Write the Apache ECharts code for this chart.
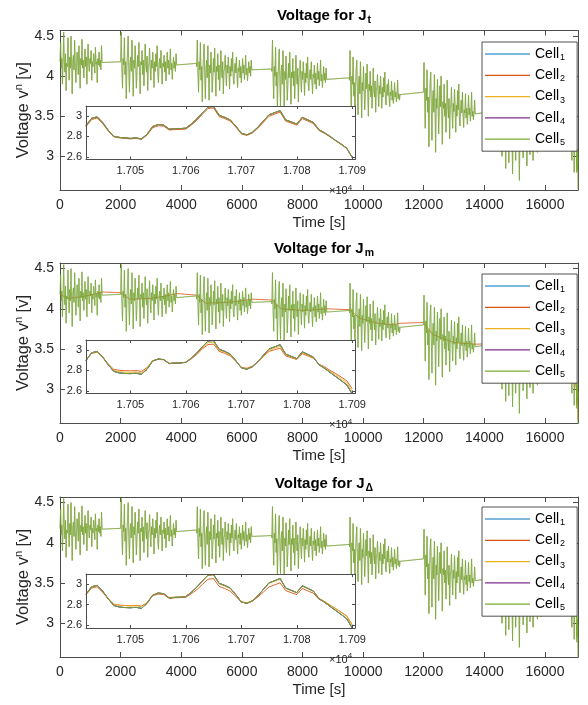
<!DOCTYPE html>
<html><head><meta charset="utf-8">
<script src="https://cdn.jsdelivr.net/npm/echarts@6/dist/echarts.min.js"></script>
<style>html,body{margin:0;padding:0;background:#fff}#c{width:588px;height:705px}</style>
</head><body><div id="c"></div>
<script>
// ---------- DATA ----------
const cellNames = ['Cell1','Cell2','Cell3','Cell4','Cell5'];
const titles = ['t','m','Δ'];
const mainXTicks = [0,2000,4000,6000,8000,10000,12000,14000,16000];
const mainYTicks = [3,3.5,4,4.5];
const insetXTicks = [17050,17060,17070,17080,17090];
const insetYTicks = [2.6,2.8,3];

// drive-cycle blocks [start, end] in s
const blockTimes = [[0,1390],[2000,3850],[4510,6330],[6990,8800],[9550,11220],[11990,13700],[14520,16060],[16830,17041]];
const b1 = [4.18,4.42,4.10,4.22,3.90,4.15,4.55,4.20,4.05,4.28,
3.82,4.16,4.12,4.48,4.18,3.95,4.24,4.10,4.50,4.14,
3.78,4.20,4.26,4.08,4.45,4.16,3.92,4.12,4.30,4.19,
4.02,4.38,4.15,3.85,4.22,4.14,4.46,4.10,4.20,3.98,
4.17,4.34,4.12,4.24,3.90,4.18,4.40,4.15,4.06,4.22,
4.16,4.32,3.95,4.18,4.12,4.28,4.20,4.04,4.36,4.15,
4.18,3.92,4.22,4.14,4.30,4.12,4.20,4.08,4.38,4.17];
const b2 = [4.16,4.55,4.10,3.85,4.22,4.14,4.48,4.02,4.18,3.72,
4.12,4.30,4.50,4.08,3.80,4.16,4.24,4.06,4.45,4.12,
3.75,4.20,4.10,4.38,4.15,3.85,4.05,4.26,4.12,4.42,
4.08,3.78,4.18,4.14,4.32,4.02,4.20,3.88,4.10,4.40,
4.14,4.05,4.25,3.82,4.12,4.16,4.35,4.08,3.95,4.20,
4.10,4.30,4.14,3.86,4.18,4.06,4.28,4.12,4.38,4.04,
3.92,4.15,4.22,4.10,4.32,4.08,3.90,4.16,4.12,4.26,
4.05,4.18,3.94,4.12,4.30,4.10,4.20,4.02,4.14,4.34,
4.08,4.16,3.96,4.12,4.24,4.10,4.18,4.06,4.28,4.14];
const b3 = [4.12,4.45,4.05,3.80,4.18,4.08,4.42,3.95,4.12,3.68,
4.06,4.25,4.40,4.02,3.72,4.10,4.20,3.98,4.38,4.06,
3.70,4.14,4.04,4.30,4.08,3.80,3.98,4.22,4.05,4.35,
4.02,3.75,4.12,4.06,4.28,3.96,4.14,3.82,4.04,4.32,
4.08,3.98,4.18,3.78,4.06,4.10,4.26,4.02,3.88,4.14,
4.04,4.24,4.08,3.84,4.12,4.00,4.22,4.06,4.30,3.98,
3.90,4.08,4.16,4.04,4.24,4.02,3.86,4.10,4.06,4.20,
3.98,4.12,3.92,4.06,4.22,4.04,4.14,3.96,4.08,4.26,
4.02,4.10,3.94,4.06,4.18,4.04,4.12,4.00,4.20,4.08];
const b4 = [4.06,4.45,3.98,3.72,4.12,4.00,4.36,3.88,4.05,3.58,
3.98,4.20,4.34,3.95,3.62,4.04,4.14,3.90,4.32,3.98,
3.55,4.06,3.96,4.25,4.00,3.70,3.90,4.16,3.98,4.30,
3.95,3.65,4.05,3.98,4.22,3.88,4.06,3.72,3.96,4.26,
4.00,3.90,4.10,3.68,3.98,4.02,4.20,3.94,3.80,4.06,
3.96,4.18,4.00,3.76,4.04,3.92,4.16,3.98,4.24,3.90,
3.82,4.00,4.08,3.96,4.18,3.94,3.78,4.02,3.98,4.14,
3.90,4.04,3.84,3.98,4.16,3.96,4.06,3.88,4.00,4.20,
3.94,4.02,3.86,3.98,4.12,3.95,4.04,3.92,4.10,3.96];
const b5 = [3.95,4.32,3.88,3.60,4.00,3.90,4.24,3.75,3.92,3.45,
3.86,4.08,4.20,3.82,3.52,3.90,4.00,3.78,4.18,3.85,
3.48,3.92,3.82,4.12,3.86,3.58,3.78,4.04,3.84,4.15,
3.80,3.50,3.90,3.82,4.06,3.74,3.88,3.60,3.80,4.10,
3.84,3.74,3.94,3.55,3.82,3.86,4.02,3.78,3.62,3.88,
3.78,4.00,3.82,3.60,3.86,3.74,3.98,3.80,4.05,3.72,
3.64,3.82,3.90,3.76,3.96,3.74,3.62,3.80,3.76,3.94,
3.70,3.82,3.66,3.76,3.92,3.74,3.80,3.68,3.78,3.95,
3.72,3.78,3.70,3.77];
const b6 = [3.82,4.17,3.72,3.35,3.85,3.70,4.08,3.55,3.74,3.12,
3.66,3.92,4.05,3.60,3.20,3.70,3.82,3.55,4.02,3.64,
3.05,3.72,3.60,3.96,3.66,3.28,3.56,3.88,3.62,4.00,
3.58,3.15,3.68,3.60,3.90,3.50,3.66,3.30,3.58,3.95,
3.62,3.48,3.72,3.22,3.60,3.64,3.86,3.55,3.35,3.66,
3.56,3.84,3.60,3.30,3.64,3.50,3.82,3.58,3.90,3.48,
3.38,3.60,3.70,3.54,3.80,3.52,3.36,3.58,3.54,3.78,
3.48,3.60,3.40,3.54,3.76,3.52,3.60,3.44,3.56,3.80,
3.50,3.56,3.46,3.54,3.70,3.53];
const b7 = [3.55,3.85,3.40,3.00,3.52,3.38,3.80,3.20,3.42,2.85,
3.36,3.62,3.76,3.30,2.92,3.40,3.52,3.25,3.74,3.34,
2.78,3.42,3.30,3.68,3.36,2.95,3.26,3.60,3.32,3.72,
3.28,2.70,3.38,3.30,3.64,3.20,3.36,2.98,3.28,3.66,
3.32,3.15,3.42,2.88,3.30,3.34,3.58,3.25,3.02,3.36,
3.26,3.55,3.30,2.95,3.34,3.20,3.52,3.28,3.60,3.18,
3.05,3.30,3.40,3.24,3.50,3.22,3.08,3.28,3.24,3.48,
3.20,3.30,3.12,3.26,3.45,3.38];
const b8 = [3.42,3.70,3.30,2.95,3.50,3.25,3.62,2.80,3.35,3.10,3.40,3.00];
const blockValues = [b1,b2,b3,b4,b5,b6,b7,b8];
// rest (relaxation) voltages between blocks: [start, end]
const restValues = [[4.17,4.18],[4.14,4.16],[4.07,4.09],[3.95,3.98],[3.77,3.80],[3.53,3.57],[3.40,3.46]];

// subplot J_m: Cell2 trace (visible centre / rest line)
const jmCell2Times  = [0,250,700,1100,1390,2000,2300,3000,3500,3850,4510,4800,5500,6000,6330,6990,7300,8000,8500,8800,9550,9900,10500,11000,11220,11990,12300,13000,13700,14520,14900,15500,16060,16830,16950,17041];
const jmCell2Values = [4.18,4.13,4.15,4.18,4.21,4.20,4.12,4.13,4.16,4.19,4.17,4.07,4.08,4.10,4.12,4.11,4.00,3.98,3.99,4.00,3.99,3.88,3.82,3.80,3.82,3.83,3.68,3.58,3.56,3.57,3.44,3.36,3.42,3.48,3.28,2.98];

// inset window: one sample per second from 17042 s
const insetStart = 17042;
const jtCell5 = [2.905,2.975,2.99,2.935,2.86,2.80,2.79,2.785,2.78,2.785,2.775,2.82,2.895,2.915,2.91,2.87,2.875,2.875,2.88,2.92,2.97,3.03,3.085,3.09,3.005,2.985,2.96,2.90,2.83,2.815,2.84,2.89,2.95,3.01,3.03,3.05,2.96,2.94,2.92,2.985,2.96,2.935,2.865,2.835,2.80,2.76,2.725,2.685,2.595];
const jtCell2 = [2.895,2.963,2.978,2.925,2.852,2.795,2.785,2.78,2.775,2.78,2.77,2.812,2.883,2.903,2.899,2.861,2.866,2.866,2.871,2.909,2.957,3.016,3.071,3.076,2.992,2.973,2.949,2.891,2.824,2.809,2.833,2.880,2.938,2.996,3.016,3.036,2.948,2.929,2.909,2.972,2.948,2.924,2.857,2.829,2.795,2.757,2.722,2.683,2.592];
const jmCell5 = [2.895,2.97,2.985,2.93,2.855,2.79,2.775,2.77,2.768,2.772,2.762,2.81,2.89,2.91,2.905,2.866,2.87,2.872,2.878,2.92,2.97,3.03,3.085,3.09,3.005,2.985,2.958,2.895,2.825,2.81,2.835,2.885,2.948,3.008,3.028,3.05,2.958,2.936,2.914,2.98,2.955,2.928,2.855,2.82,2.78,2.74,2.70,2.66,2.57];
const jmCell2 = [2.90,2.965,2.978,2.93,2.862,2.81,2.80,2.797,2.795,2.798,2.79,2.825,2.893,2.908,2.903,2.868,2.872,2.874,2.878,2.912,2.955,3.01,3.05,3.055,2.985,2.965,2.942,2.888,2.83,2.82,2.842,2.883,2.935,2.985,3.0,3.015,2.94,2.923,2.905,2.962,2.94,2.918,2.86,2.835,2.80,2.77,2.735,2.70,2.62];
const jmCell3 = [2.897,2.968,2.982,2.93,2.858,2.80,2.787,2.783,2.78,2.784,2.775,2.817,2.891,2.909,2.904,2.867,2.871,2.873,2.878,2.916,2.963,3.02,3.068,3.073,2.995,2.975,2.95,2.892,2.828,2.815,2.838,2.884,2.942,2.997,3.015,3.033,2.95,2.93,2.91,2.972,2.948,2.923,2.858,2.828,2.79,2.755,2.718,2.68,2.597];
const jdCell5 = [2.90,2.972,2.986,2.93,2.856,2.792,2.777,2.772,2.77,2.774,2.764,2.812,2.89,2.912,2.906,2.864,2.87,2.872,2.878,2.92,2.97,3.03,3.085,3.09,3.005,2.985,2.96,2.896,2.826,2.812,2.836,2.886,2.948,3.01,3.03,3.052,2.96,2.938,2.916,2.982,2.957,2.93,2.858,2.823,2.783,2.744,2.705,2.665,2.575];
const jdCell2 = [2.895,2.96,2.972,2.92,2.855,2.805,2.795,2.792,2.79,2.793,2.785,2.82,2.885,2.902,2.897,2.86,2.866,2.868,2.872,2.905,2.945,2.995,3.045,3.05,2.975,2.955,2.93,2.88,2.825,2.815,2.835,2.874,2.922,2.97,2.99,3.01,2.935,2.915,2.897,2.955,2.932,2.91,2.852,2.828,2.795,2.762,2.728,2.692,2.605];
const jdCell3 = [2.90,2.97,2.985,2.932,2.86,2.803,2.793,2.79,2.787,2.79,2.782,2.82,2.892,2.912,2.906,2.868,2.873,2.874,2.879,2.918,2.967,3.026,3.08,3.085,3.0,2.98,2.956,2.895,2.83,2.818,2.84,2.887,2.946,3.005,3.025,3.045,2.956,2.935,2.915,2.978,2.954,2.93,2.862,2.832,2.797,2.76,2.725,2.688,2.6];

// per subplot, per cell inset tails (overlapping cells share their values)
const insetSets = [
  [jtCell5, jtCell2, jtCell5, jtCell5, jtCell5],
  [jmCell5, jmCell2, jmCell3, jmCell5, jmCell5],
  [jdCell5, jdCell2, jdCell3, jdCell5, jdCell5]
];

// ---------- BUILD ----------
const FONT = '"Liberation Sans", Arial, Helvetica, sans-serif';
const TXT = '#262626';
const AX = '#4d4d4d';
const colors = ['#0072BD','#D95319','#EDB120','#7E2F8E','#77AC30'];

function tailPoints(tail){ return tail.map((v,k)=>[insetStart+k, v]); }
function mainPoints(tail){
  const pts = [];
  for (let b=0;b<blockTimes.length;b++){
    const t0=blockTimes[b][0], t1=blockTimes[b][1], vals=blockValues[b], n=vals.length;
    for (let j=0;j<n;j++) pts.push([t0+(t1-t0)*j/(n-1), vals[j]]);
    if (b<restValues.length){
      pts.push([t1+1, restValues[b][0]]);
      pts.push([blockTimes[b+1][0]-1, restValues[b][1]]);
    }
  }
  return pts.concat(tailPoints(tail));
}
function jmCell2Points(tail){
  return jmCell2Times.map((t,i)=>[t, jmCell2Values[i]]).concat(tailPoints(tail));
}

const mainGrids = [
  {left:60, top:30.5, width:518, height:159.5},
  {left:60, top:263, width:518, height:160},
  {left:60, top:497, width:518, height:160}
];
const insetGrids = [
  {left:86, top:106, width:269, height:53.5},
  {left:86, top:340, width:269, height:53.5},
  {left:86, top:574, width:269, height:54}
];
const titleTops = [0, 233, 468];
const legendTops = [42, 274, 507];

const grid = [], xAxis = [], yAxis = [], series = [], legend = [], title = [], graphic = [];

function axisPair(gi, isX, opts){
  const base = {
    gridIndex: gi, type:'value', min: opts.min, max: opts.max, z: opts.z,
    splitLine:{show:false},
    axisLine:{show:true, onZero:false, lineStyle:{color:AX, width:1}},
    axisTick:{show:true, inside:true, length:opts.tickLen, customValues: opts.ticks, lineStyle:{color:AX, width:1}},
  };
  const a = Object.assign({}, base, {
    position: isX ? 'bottom' : 'left',
    axisLabel:{show:true, customValues: opts.ticks, formatter: opts.fmt, color:TXT, fontSize:opts.fs, fontFamily:FONT, margin:opts.margin},
  }, opts.name || {});
  const b = Object.assign({}, base, {
    position: isX ? 'top' : 'right',
    axisLabel:{show:false}
  });
  return [a,b];
}

for (let s=0;s<3;s++){
  const gMain = grid.length; grid.push(mainGrids[s]);
  const gIn = grid.length; grid.push(insetGrids[s]);

  xAxis.push(...axisPair(gMain, true, {min:0, max:17090, ticks:mainXTicks, tickLen:5, fs:14, margin:8, z:0,
    fmt: v=>String(v),
    name:{name:'Time [s]', nameLocation:'middle', nameGap:25, nameMoveOverlap:false,
      nameTextStyle:{fontSize:15, color:TXT, fontFamily:FONT}}}));
  yAxis.push(...axisPair(gMain, false, {min:2.58, max:4.57, ticks:mainYTicks, tickLen:5, fs:14, margin:6, z:0,
    fmt: v=>String(v),
    name:{name:'{a|Voltage v}{s|n}{a| [v]}', nameLocation:'middle', nameGap:26.5, nameRotate:90, nameMoveOverlap:false,
      nameTextStyle:{color:TXT, fontFamily:FONT, rich:{
        a:{fontSize:16.5, color:TXT, fontFamily:FONT},
        s:{fontSize:11, color:TXT, fontFamily:FONT, padding:[0,0,9,0]}}}}}));
  xAxis.push(...axisPair(gIn, true, {min:17042, max:17090.5, ticks:insetXTicks, tickLen:3, fs:11, margin:6, z:8,
    fmt: v=>(v/1e4).toFixed(3)}));
  yAxis.push(...axisPair(gIn, false, {min:2.575, max:3.095, ticks:insetYTicks, tickLen:3, fs:11, margin:4, z:8,
    fmt: v=> v===3 ? '3' : v.toFixed(1)}));

  const xMain = 2*gMain, yMain = 2*gMain, xIn = 2*gIn, yIn = 2*gIn;
  for (let c=0;c<5;c++){
    const tail = insetSets[s][c];
    const special = (s===1 && c===1);
    const data = special ? jmCell2Points(tail) : mainPoints(tail);
    series.push({name:cellNames[c], type:'line', xAxisIndex:xMain, yAxisIndex:yMain, data,
      showSymbol:false, symbol:'none', animation:false, z:2, clip:true,
      lineStyle:{color:colors[c], width: special ? 0.8 : (c===4 ? 0.75 : 0.6), opacity: (c===4 || special) ? 1 : 0.15},
      itemStyle:{color:colors[c]}});
  }
  for (let c=0;c<5;c++){
    series.push({name:cellNames[c], type:'line', xAxisIndex:xIn, yAxisIndex:yIn, data:tailPoints(insetSets[s][c]),
      showSymbol:false, symbol:'none', animation:false, z:7, clip:true,
      lineStyle:{color:colors[c], width:0.9}, itemStyle:{color:colors[c]}});
  }

  legend.push({
    orient:'vertical', left:482, top:legendTops[s], data:cellNames, selectedMode:false,
    icon:'rect', itemWidth:45, itemHeight:1.2, itemGap:5.3,
    padding:[4,12,4,3], backgroundColor:'#fff', borderColor:'#262626', borderWidth:0.8, z:10,
    formatter: n => '{a|Cell}{s|'+n.slice(4)+'}',
    textStyle:{color:'#000', fontFamily:FONT, rich:{
      a:{fontSize:14, lineHeight:17, color:'#000', fontFamily:FONT},
      s:{fontSize:9, lineHeight:17, color:'#000', fontFamily:FONT, padding:[7,0,0,1]}}}
  });

  title.push({
    text:'{a|Voltage for J}{s|'+titles[s]+'}', left:319, top:titleTops[s], textAlign:'center',
    textStyle:{rich:{
      a:{fontSize:15, fontWeight:'bold', color:'#000', fontFamily:FONT},
      s:{fontSize:10.5, fontWeight:'bold', color:'#000', fontFamily:FONT, padding:[10,0,0,1]}}}
  });

  const ig = insetGrids[s];
  graphic.push({type:'rect', z:5, silent:true, shape:{x:ig.left, y:ig.top, width:ig.width, height:ig.height}, style:{fill:'#fff'}});
  graphic.push({type:'text', z:20, silent:true, x:329, y:ig.top+ig.height+24,
    style:{text:'{a|×10}{s|4}', fill:TXT, rich:{
      a:{fontSize:11, fontFamily:FONT, fill:TXT},
      s:{fontSize:8, fontFamily:FONT, fill:TXT, padding:[0,0,7,0]}}}});
}

const chart = echarts.init(document.getElementById('c'), null, {renderer:'canvas'});
chart.setOption({
  animation:false, backgroundColor:'#fff',
  textStyle:{fontFamily:FONT},
  grid, xAxis, yAxis, series, legend, title, graphic
});
</script></body></html>
